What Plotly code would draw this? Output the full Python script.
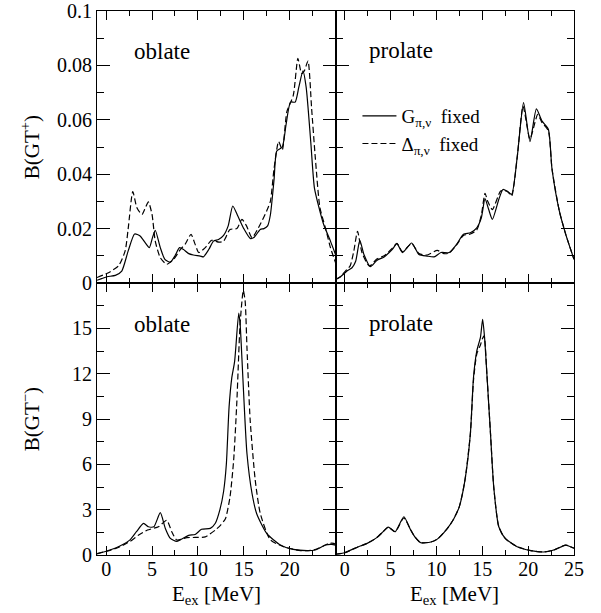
import plotly.graph_objects as go

# ---------------- data ----------------
# Top-left: oblate, B(GT+)
E_ob_plus_G = [-1, -0.5, 0.1, 1.0, 1.7, 2.4, 3.1, 3.7, 4.25, 4.7, 5.05, 5.35, 5.9, 6.4, 7.0, 7.5, 8.0, 8.4, 9.0, 9.5,
               10.25, 10.6, 11.2, 11.7, 12.25, 12.8, 13.3, 13.8, 14.3, 15.0, 15.7, 16.1, 16.8, 17.2, 17.6, 17.9, 18.3,
               18.6, 19.2, 19.6, 20.1, 20.6, 21.0, 21.45, 21.8, 22.3, 22.7, 23.2, 23.7, 24.45, 25]
B_ob_plus_G = [0.0010, 0.0016, 0.0023, 0.0028, 0.0044, 0.0118, 0.0180, 0.0173, 0.0148, 0.0130, 0.0167, 0.0194, 0.0130,
               0.0087, 0.0077, 0.0100, 0.0130, 0.0124, 0.0108, 0.0103, 0.0099, 0.0096, 0.0124, 0.0154, 0.0160, 0.0175,
               0.0210, 0.0283, 0.0250, 0.0200, 0.0164, 0.0167, 0.0197, 0.0200, 0.0210, 0.0250, 0.0380, 0.0485, 0.0500,
               0.0580, 0.0665, 0.0665, 0.0720, 0.0780, 0.0720, 0.0520, 0.0350, 0.0277, 0.0216, 0.0154, 0.0105]
E_ob_plus_D = [-1, 0.25, 1.35, 2.07, 2.4, 2.9, 3.35, 3.9, 4.25, 4.6, 5.0, 5.35, 5.9, 6.6, 7.35, 8.1, 8.6, 9.25, 9.7,
               10.1, 10.8, 11.5, 12.3, 12.8, 13.5, 14.25, 14.8, 15.3, 15.9, 16.8, 17.5, 17.9, 18.3, 18.8, 19.2, 19.7,
               20.4, 20.9, 21.3, 21.6, 22.0, 22.4, 22.8, 23.3, 23.9, 24.45, 25]
B_ob_plus_D = [0.0020, 0.0038, 0.0063, 0.0118, 0.0200, 0.0336, 0.0277, 0.0252, 0.0275, 0.0298, 0.0252, 0.0154, 0.0093,
               0.0069, 0.0087, 0.0124, 0.0142, 0.0179, 0.0142, 0.0112, 0.0130, 0.0157, 0.0150, 0.0154, 0.0197, 0.0200,
               0.0234, 0.0210, 0.0167, 0.0216, 0.0265, 0.0300, 0.0420, 0.0520, 0.0490, 0.0630, 0.0690, 0.0826, 0.0770,
               0.0780, 0.0816, 0.0640, 0.0460, 0.0277, 0.0203, 0.0130, 0.0075]

# Top-right: prolate, B(GT+)
E_pr_plus_G = [-1, -0.5, 0.25, 0.8, 1.2, 1.65, 2.1, 2.8, 3.5, 4.3, 5.2, 5.7, 6.3, 7.3, 8.1, 9.0, 9.75, 10.5, 11.4, 12.2,
               12.95, 13.7, 14.4, 14.9, 15.3, 15.7, 16.1, 16.8, 17.25, 17.7, 18.2, 18.8, 19.5, 20.2, 20.9, 21.5, 22.2,
               22.6, 23.4, 24.1, 25]
B_pr_plus_G = [0.0013, 0.0022, 0.0044, 0.0056, 0.0080, 0.0157, 0.0105, 0.0060, 0.0083, 0.0096, 0.0124, 0.0145, 0.0112,
               0.0147, 0.0105, 0.0099, 0.0096, 0.0112, 0.0112, 0.0142, 0.0179, 0.0185, 0.0203, 0.0240, 0.0310, 0.0270,
               0.0234, 0.0307, 0.0344, 0.0338, 0.0326, 0.0460, 0.0663, 0.0520, 0.0640, 0.0596, 0.0565, 0.0420, 0.0265,
               0.0179, 0.0087]
E_pr_plus_D = [-1, -0.5, 0.25, 0.6, 1.0, 1.4, 1.9, 2.7, 3.5, 4.3, 5.2, 5.7, 6.3, 7.3, 8.1, 9.0, 10.1, 10.8, 11.4, 12.2,
               12.95, 13.7, 14.4, 14.9, 15.3, 15.6, 16.1, 17.0, 17.4, 17.8, 18.2, 18.8, 19.45, 20.2, 21.05, 21.5, 22.2,
               22.6, 23.4, 24.1, 25]
B_pr_plus_D = [0.0013, 0.0022, 0.0050, 0.0063, 0.0118, 0.0190, 0.0110, 0.0062, 0.0088, 0.0100, 0.0128, 0.0146, 0.0115,
               0.0145, 0.0108, 0.0103, 0.0120, 0.0108, 0.0110, 0.0140, 0.0175, 0.0180, 0.0195, 0.0250, 0.0330, 0.0300,
               0.0270, 0.0338, 0.0340, 0.0335, 0.0320, 0.0460, 0.0650, 0.0530, 0.0620, 0.0590, 0.0560, 0.0420, 0.0265,
               0.0179, 0.0087]

# Bottom-left: oblate, B(GT-)
E_ob_minus_G = [-1, 0.4, 1.5, 2.6, 3.3, 4.07, 4.6, 5.2, 5.9, 6.45, 7.0, 7.7, 9.0, 9.7, 10.4, 11.35, 11.9, 12.4, 12.8,
                13.1, 13.4, 13.7, 14.0, 14.45, 14.6, 14.8, 15.0, 15.35, 15.9, 16.4, 17.5, 19.0, 20.4, 21.9, 22.8, 23.9,
                24.6, 25]
B_ob_minus_G = [0.07, 0.33, 0.60, 1.00, 1.54, 2.09, 1.87, 1.87, 2.80, 1.76, 1.10, 0.90, 1.30, 1.36, 1.70, 1.76, 2.10,
                3.00, 4.20, 6.00, 9.80, 11.75, 12.80, 16.00, 15.30, 13.00, 10.50, 6.70, 4.07, 2.75, 1.43, 0.66, 0.37,
                0.29, 0.33, 0.66, 0.70, 0.65]
E_ob_minus_D = [-1, 0.4, 1.5, 2.6, 3.5, 4.5, 5.7, 6.6, 7.15, 7.7, 8.8, 9.7, 10.8, 11.9, 12.5, 13.0, 13.5, 13.9, 14.25,
                14.6, 14.95, 15.15, 15.35, 15.7, 16.25, 16.8, 17.9, 19.35, 21.2, 22.6, 23.7, 24.3, 24.8, 25]
B_ob_minus_D = [0.10, 0.30, 0.55, 0.90, 1.30, 1.65, 1.87, 2.30, 1.54, 0.99, 1.15, 1.16, 1.20, 1.65, 2.00, 2.40, 3.85,
                6.30, 10.20, 15.30, 17.50, 16.80, 13.70, 8.90, 4.95, 2.75, 1.00, 0.55, 0.29, 0.33, 0.60, 0.77, 0.77, 0.70]

# Bottom-right: prolate, B(GT-)
E_pr_minus_G = [-1, 0, 1.5, 2.45, 3.5, 4.2, 4.75, 5.5, 6.45, 7.2, 7.65, 8.3, 9.4, 10.1, 11.2, 11.9, 12.5, 13.1, 13.7,
                14.05, 14.4, 14.8, 15.04, 15.25, 15.5, 15.9, 16.25, 16.8, 17.5, 18.8, 20.3, 21.7, 22.8, 24.1, 24.8, 25]
B_pr_minus_G = [0.05, 0.15, 0.55, 0.77, 1.15, 1.55, 1.85, 1.54, 2.53, 1.65, 1.20, 0.81, 0.86, 1.05, 1.76, 2.40, 3.20,
                4.90, 8.00, 11.80, 13.50, 14.40, 15.60, 14.40, 12.00, 8.00, 4.50, 1.87, 1.10, 0.55, 0.29, 0.20, 0.33,
                0.66, 0.50, 0.45]
E_pr_minus_D = [-1, 0, 1.5, 2.45, 3.5, 4.2, 4.75, 5.5, 6.45, 7.2, 7.65, 8.3, 9.4, 10.1, 11.2, 11.9, 12.5, 13.1, 13.7,
                14.05, 14.4, 14.8, 15.0, 15.2, 15.5, 15.9, 16.25, 16.8, 17.5, 18.8, 20.3, 21.7, 22.8, 24.1, 24.8, 25]
B_pr_minus_D = [0.05, 0.15, 0.55, 0.77, 1.15, 1.55, 1.85, 1.54, 2.45, 1.65, 1.20, 0.81, 0.86, 1.05, 1.76, 2.40, 3.20,
                4.90, 8.00, 11.60, 13.30, 13.90, 14.30, 14.50, 12.00, 8.00, 4.50, 1.87, 1.10, 0.55, 0.29, 0.20, 0.33,
                0.66, 0.50, 0.45]

x_ticks_left = [0, 5, 10, 15, 20]
x_ticks_right = [0, 5, 10, 15, 20, 25]
y_ticks_plus = [0, 0.02, 0.04, 0.06, 0.08, 0.1]
y_ticktext_plus = ["0", "0.02", "0.04", "0.06", "0.08", "0.1"]
y_ticks_minus = [0, 3, 6, 9, 12, 15]

legend_names = ["G<sub>\u03c0,\u03bd</sub>  fixed", "\u0394<sub>\u03c0,\u03bd</sub>  fixed"]

# ---------------- figure ----------------
FONT = "Liberation Serif, Times New Roman, serif"
fig = go.Figure()

solid = dict(color="black", width=1.2)
dashed = dict(color="black", width=1.2, dash="6px,3px")

def add(x, y, xa, ya, line, name=None, show=False):
    fig.add_trace(go.Scatter(x=x, y=y, xaxis=xa, yaxis=ya, mode="lines",
                             line=dict(shape="spline", smoothing=0.6, **line),
                             name=name or "", showlegend=show, hoverinfo="skip"))

add(E_ob_plus_G, B_ob_plus_G, "x3", "y3", solid)
add(E_ob_plus_D, B_ob_plus_D, "x3", "y3", dashed)
add(E_pr_plus_G, B_pr_plus_G, "x4", "y4", solid, legend_names[0], True)
add(E_pr_plus_D, B_pr_plus_D, "x4", "y4", dashed, legend_names[1], True)
add(E_ob_minus_G, B_ob_minus_G, "x", "y", solid)
add(E_ob_minus_D, B_ob_minus_D, "x", "y", dashed)
add(E_pr_minus_G, B_pr_minus_G, "x2", "y2", solid)
add(E_pr_minus_D, B_pr_minus_D, "x2", "y2", dashed)

tickfont = dict(family=FONT, size=20, color="black")
LW = 1.0

def xax(domain, anchor, tickvals, labels):
    return dict(domain=domain, anchor=anchor, range=[-1, 25], tickmode="array", tickvals=tickvals,
                showticklabels=labels, ticks="inside", ticklen=9, tickwidth=1, tickcolor="black",
                minor=dict(tickmode="linear", tick0=0, dtick=2.5, ticks="inside", ticklen=5,
                           tickwidth=1, tickcolor="black"),
                showline=True, linecolor="black", linewidth=LW, mirror="ticks", automargin=False,
                showgrid=False, zeroline=False, tickfont=tickfont, ticklabelstandoff=-4,
                ticklabeloverflow="allow")

def yax(domain, anchor, rng, tickvals, ticktext, minor_dtick, labels):
    return dict(domain=domain, anchor=anchor, range=rng, tickmode="array", tickvals=tickvals,
                ticktext=ticktext, showticklabels=labels, ticks="inside", ticklen=13, tickwidth=1,
                tickcolor="black",
                minor=dict(tickmode="linear", tick0=0, dtick=minor_dtick, ticks="inside", ticklen=7,
                           tickwidth=1, tickcolor="black"),
                showline=True, linecolor="black", linewidth=LW, mirror="ticks", automargin=False,
                showgrid=False, zeroline=False, tickfont=tickfont, ticklabeloverflow="allow")

minus_text = [str(v) for v in y_ticks_minus]

fig.update_layout(
    width=601, height=613,
    margin=dict(l=97, r=27, t=11, b=58, autoexpand=False),
    paper_bgcolor="white", plot_bgcolor="white",
    font=dict(family=FONT, color="black", size=20),
    xaxis=xax([0, 0.5], "y", x_ticks_left, True),
    xaxis2=xax([0.5, 1], "y2", x_ticks_right, True),
    xaxis3=xax([0, 0.5], "y3", x_ticks_left, False),
    xaxis4=xax([0.5, 1], "y4", x_ticks_right, False),
    yaxis=yax([0, 0.5], "x", [0, 18], y_ticks_minus, minus_text, 1.5, True),
    yaxis2=yax([0, 0.5], "x2", [0, 18], y_ticks_minus, minus_text, 1.5, False),
    yaxis3=yax([0.5, 1], "x3", [0, 0.1], y_ticks_plus, y_ticktext_plus, 0.01, True),
    yaxis4=yax([0.5, 1], "x4", [0, 0.1], y_ticks_plus, y_ticktext_plus, 0.01, False),
    legend=dict(x=0.546, y=0.842, xanchor="left", yanchor="top", bgcolor="rgba(0,0,0,0)",
                font=dict(family=FONT, size=19, color="black"), itemwidth=34,
                tracegroupgap=0),
    showlegend=True,
)

ann_font = dict(family=FONT, size=23, color="black")
lab_font = dict(family=FONT, size=21, color="black")
annotations = [
    dict(text="oblate", x=0.073, y=0.925, xref="paper", yref="paper", xanchor="left", yanchor="middle",
         showarrow=False, font=ann_font),
    dict(text="prolate", x=0.566, y=0.928, xref="paper", yref="paper", xanchor="left", yanchor="middle",
         showarrow=False, font=ann_font),
    dict(text="oblate", x=0.073, y=0.423, xref="paper", yref="paper", xanchor="left", yanchor="middle",
         showarrow=False, font=ann_font),
    dict(text="prolate", x=0.566, y=0.426, xref="paper", yref="paper", xanchor="left", yanchor="middle",
         showarrow=False, font=ann_font),
    dict(text="B(GT<sup>+</sup>)", x=-0.14, y=0.75, xref="paper", yref="paper", xanchor="center",
         yanchor="middle", textangle=-90, showarrow=False, font=lab_font),
    dict(text="B(GT<sup>\u2212</sup>)", x=-0.14, y=0.25, xref="paper", yref="paper", xanchor="center",
         yanchor="middle", textangle=-90, showarrow=False, font=lab_font),
    dict(text="E<sub>ex</sub> [MeV]", x=0.25, y=-0.046, xref="paper", yref="paper", xanchor="center",
         yanchor="top", showarrow=False, font=lab_font),
    dict(text="E<sub>ex</sub> [MeV]", x=0.75, y=-0.046, xref="paper", yref="paper", xanchor="center",
         yanchor="top", showarrow=False, font=lab_font),
]
fig.update_layout(annotations=annotations)

# remove the default 8px page margin so the figure fills the window exactly; hide the mode bar
fig.write_html("out.html", config={"displayModeBar": False},
               post_script="document.body.style.margin='0px';")
